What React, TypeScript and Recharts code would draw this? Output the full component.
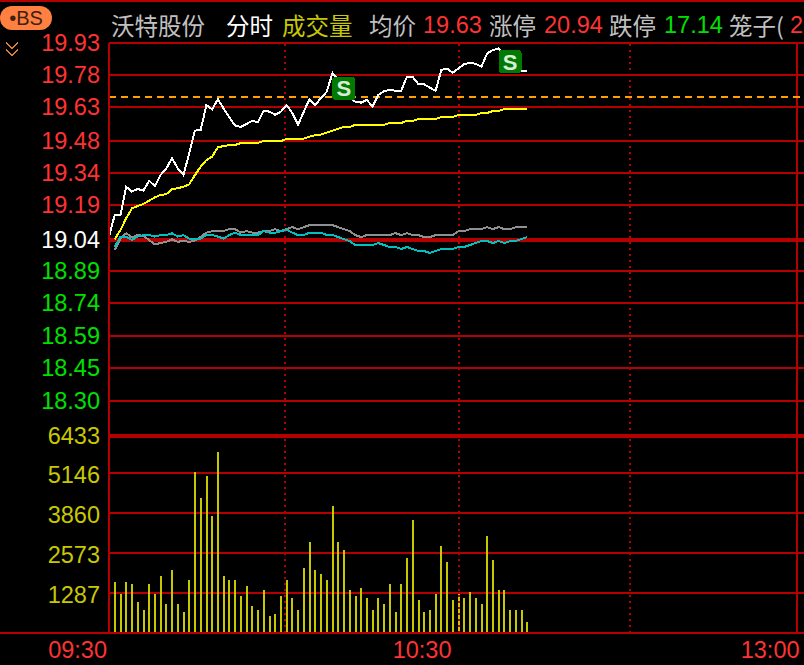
import { Bar, CartesianGrid, ComposedChart, Line, ReferenceLine, XAxis, YAxis } from 'recharts'

const lastPrice = [
  19.053, 19.151, 19.15, 19.279, 19.257, 19.269, 19.261, 19.306, 19.282, 19.332, 19.362, 19.408, 19.362, 19.332, 19.43,
  19.533, 19.536, 19.649, 19.63, 19.675, 19.634, 19.593, 19.557, 19.55, 19.563, 19.578, 19.571, 19.623, 19.619, 19.605,
  19.619, 19.649, 19.612, 19.559, 19.619, 19.676, 19.649, 19.681, 19.709, 19.794, 19.762, 19.717, 19.685, 19.664, 19.66,
  19.672, 19.642, 19.694, 19.713, 19.717, 19.714, 19.714, 19.777, 19.777, 19.743, 19.743, 19.728, 19.713, 19.808, 19.814,
  19.795, 19.815, 19.834, 19.841, 19.835, 19.823, 19.883, 19.898, 19.906, 19.876, 19.844, 19.817, 19.805, 19.805,
]
const avgPrice = [
  null, 19.042, 19.083, 19.136, 19.181, 19.192, 19.201, 19.216, 19.231, 19.242, 19.245, 19.269, 19.272, 19.279, 19.29,
  19.332, 19.37, 19.4, 19.415, 19.458, 19.463, 19.468, 19.468, 19.477, 19.477, 19.477, 19.478, 19.486, 19.486, 19.486,
  19.486, 19.495, 19.495, 19.495, 19.497, 19.506, 19.513, 19.515, 19.524, 19.533, 19.542, 19.55, 19.55, 19.559, 19.559,
  19.559, 19.559, 19.559, 19.559, 19.568, 19.568, 19.568, 19.577, 19.577, 19.586, 19.586, 19.586, 19.586, 19.595, 19.595,
  19.595, 19.604, 19.604, 19.604, 19.604, 19.613, 19.613, 19.622, 19.622, 19.631, 19.631, 19.631, 19.631, 19.631,
]
const grayLine = [
  null, 18.992, 19.045, 19.068, 19.05, 19.06, 19.057, 19.038, 19.018, 19.024, 19.029, 19.041, 19.029, 19.035, 19.029,
  19.035, 19.053, 19.071, 19.078, 19.078, 19.078, 19.087, 19.087, 19.071, 19.078, 19.071, 19.071, 19.078, 19.078, 19.087,
  19.078, 19.087, 19.096, 19.087, 19.096, 19.105, 19.105, 19.105, 19.105, 19.105, 19.096, 19.087, 19.078, 19.06, 19.051,
  19.06, 19.06, 19.06, 19.06, 19.06, 19.069, 19.06, 19.069, 19.06, 19.06, 19.051, 19.051, 19.06, 19.06, 19.06,
  19.06, 19.078, 19.078, 19.087, 19.087, 19.087, 19.096, 19.087, 19.096, 19.087, 19.087, 19.096, 19.096, 19.096,
]
const cyanLine = [
  null, 19.007, 19.053, 19.053, 19.038, 19.053, 19.06, 19.06, 19.053, 19.06, 19.06, 19.068, 19.053, 19.06, 19.044,
  19.041, 19.044, 19.06, 19.06, 19.053, 19.044, 19.06, 19.071, 19.06, 19.06, 19.06, 19.06, 19.078, 19.071, 19.071,
  19.078, 19.084, 19.071, 19.06, 19.06, 19.071, 19.071, 19.071, 19.06, 19.06, 19.051, 19.042, 19.033, 19.015, 19.015,
  19.015, 19.015, 19.024, 19.015, 19.006, 19.006, 18.997, 19.006, 18.997, 18.988, 18.988, 18.979, 18.988, 18.997, 18.997,
  18.997, 19.006, 19.006, 19.015, 19.024, 19.033, 19.033, 19.024, 19.033, 19.024, 19.033, 19.033, 19.042, 19.051,
]
const volume = [
  1654, 1263, 1654, 1589, 1001, 740, 1589, 1263, 1850, 936, 2046, 936, 675, 1720, 5247, 4398, 5116, 3810, 5900, 1850,
  1720, 1720, 1197, 1524, 871, 740, 1393, 544, 610, 1197, 1720, 1132, 740, 2112, 2961, 2046, 1916, 1720, 4136, 2961,
  2700, 1393, 1197, 1459, 1132, 740, 1132, 936, 1589, 675, 1589, 2438, 3679, 1067, 675, 740, 1263, 2830, 2308, 1067,
  1263, 1132, 1328, 1132, 936, 3157, 2373, 1393, 1393, 740, 740, 740, 348,
]
const sellMarks = [
  { minute: 41, price: 19.724 },
  { minute: 70, price: 19.846 },
]

const priceTicks = [19.93, 19.785, 19.64, 19.486, 19.341, 19.196, 19.038, 18.897, 18.752, 18.603, 18.458, 18.309, 18.15]
const priceLabels = ['19.93', '19.78', '19.63', '19.48', '19.34', '19.19', '19.04', '18.89', '18.74', '18.59', '18.45', '18.30', '']
const volumeTicks = [0, 1306, 2612, 3919, 5225, 6433]
const volumeLabels = ['', '1287', '2573', '3860', '5146', '6433']
const timeTicks = [0, 61, 120]
const timeLabels = ['09:30', '10:30', '13:00']
const timeNudge = [-2, -7, 3]
const halfHours = [30.7, 61, 91]

const prevClose = 19.038
const highlight = 19.685

const priceData = lastPrice.map((p, i) => ({
  minute: i,
  last: p,
  avg: avgPrice[i],
  gray: grayLine[i],
  cyan: cyanLine[i],
  sell: sellMarks.find((m) => m.minute === i)?.price ?? null,
}))
const volumeData = volume.map((v, i) => ({ minute: i + 1, volume: v }))

const RED = '#b40000'
const digits = '"Liberation Sans", Arial, sans-serif'
const cjk = '"Noto Sans CJK SC", sans-serif'

function PriceTick({ y, payload }: any) {
  const idx = priceTicks.indexOf(payload.value)
  const fill = idx < 6 ? '#ff3232' : idx === 6 ? '#ffffff' : '#00e000'
  return (
    <text x={100} y={y + 8} textAnchor="end" fill={fill} fontSize={23.5} fontFamily={digits}>
      {priceLabels[idx]}
    </text>
  )
}

function VolumeTick({ y, payload }: any) {
  const idx = volumeTicks.indexOf(payload.value)
  return (
    <text x={100} y={y + (idx === 5 ? 8 : 10)} textAnchor="end" fill="#c8c800" fontSize={23.5} fontFamily={digits}>
      {volumeLabels[idx]}
    </text>
  )
}

function TimeTick({ x, payload }: any) {
  const idx = timeTicks.indexOf(payload.value)
  return (
    <text x={x + timeNudge[idx]} y={242} textAnchor="end" fill="#ff3232" fontSize={23.5} fontFamily={digits}>
      {timeLabels[idx]}
    </text>
  )
}

function SellBadge({ cx, cy, payload }: any) {
  if (payload.sell == null) return <g key={payload.minute} />
  return (
    <g key={payload.minute}>
      <rect x={cx - 11.5} y={cy - 11.5} width={23} height={23} rx={3} fill="#007a00" />
      <text x={cx} y={cy + 8} textAnchor="middle" fill="#d8ecd8" fontSize={22} fontWeight="bold" fontFamily={digits}>
        S
      </text>
    </g>
  )
}

function Head({ left, color, font, children }: any) {
  return (
    <span
      style={{
        position: 'absolute',
        left,
        top: 8,
        color,
        fontFamily: font,
        fontSize: 23.5,
        lineHeight: '34px',
        whiteSpace: 'nowrap',
      }}
    >
      {children}
    </span>
  )
}

export default function App() {
  return (
    <div
      style={{
        position: 'absolute',
        left: 0,
        top: 0,
        width: 804,
        height: 665,
        background: '#000',
        overflow: 'hidden',
        shapeRendering: 'crispEdges',
      }}
    >
      <div style={{ position: 'absolute', left: 0, top: 0, width: 804, height: 2, background: RED }} />
      <div style={{ position: 'absolute', left: 0, top: 632, width: 109, height: 2, background: RED }} />

      <div
        style={{
          position: 'absolute',
          left: 0,
          top: 6,
          width: 52,
          height: 24,
          borderRadius: 12,
          background: '#ff8040',
          color: '#402010',
          fontFamily: digits,
          fontSize: 20,
          lineHeight: '24px',
          textAlign: 'center',
        }}
      >
        •BS
      </div>
      <svg style={{ position: 'absolute', left: 5, top: 42 }} width={14} height={16}>
        <polyline points="1,1 7,6 13,1" fill="none" stroke="#e08030" strokeWidth={1.5} />
        <polyline points="1,8 7,13 13,8" fill="none" stroke="#e08030" strokeWidth={1.5} />
      </svg>

      <Head left={111} color="#c0c0c0" font={cjk}>沃特股份</Head>
      <Head left={226} color="#ffffff" font={cjk}>分时</Head>
      <Head left={282} color="#c8c800" font={cjk}>成交量</Head>
      <Head left={369} color="#c0c0c0" font={cjk}>均价</Head>
      <Head left={423} color="#ff3232" font={digits}>19.63</Head>
      <Head left={489} color="#c0c0c0" font={cjk}>涨停</Head>
      <Head left={544} color="#ff3232" font={digits}>20.94</Head>
      <Head left={609} color="#c0c0c0" font={cjk}>跌停</Head>
      <Head left={664} color="#00e000" font={digits}>17.14</Head>
      <Head left={729} color="#c0c0c0" font={cjk}>笼子(</Head>
      <Head left={790} color="#ff3232" font={digits}>2</Head>

      <div style={{ position: 'absolute', left: 0, top: 0 }}>
        <ComposedChart width={804} height={446} data={priceData} margin={{ top: 43, right: 0, bottom: 10, left: 0 }}>
          <CartesianGrid vertical={false} stroke={RED} strokeWidth={2} />
          <XAxis type="number" dataKey="minute" domain={[0, 121.3]} hide />
          <YAxis
            width={109}
            domain={[18.15, 19.93]}
            ticks={priceTicks}
            interval={0}
            tick={PriceTick}
            tickLine={false}
            axisLine={{ stroke: RED, strokeWidth: 2 }}
          />
          {halfHours.map((m) => (
            <ReferenceLine key={m} x={m} stroke={RED} strokeWidth={2} strokeDasharray="2 4" />
          ))}
          <ReferenceLine x={120} stroke={RED} strokeWidth={2} />
          <ReferenceLine y={prevClose} stroke={RED} strokeWidth={4} />
          <ReferenceLine y={18.15} stroke={RED} strokeWidth={4} />
          <ReferenceLine y={highlight} stroke="#ffa000" strokeWidth={2} strokeDasharray="7 5" />
          <Line dataKey="gray" stroke="#909090" strokeWidth={2} dot={false} isAnimationActive={false} />
          <Line dataKey="cyan" stroke="#00c0c0" strokeWidth={2} dot={false} isAnimationActive={false} />
          <Line dataKey="avg" stroke="#ffff00" strokeWidth={2} dot={false} isAnimationActive={false} />
          <Line dataKey="last" stroke="#ffffff" strokeWidth={2} dot={false} isAnimationActive={false} />
          <Line dataKey="sell" stroke="none" dot={SellBadge} isAnimationActive={false} />
        </ComposedChart>
      </div>

      <div style={{ position: 'absolute', left: 0, top: 416 }}>
        <ComposedChart width={804} height={249} data={volumeData} margin={{ top: 20, right: 0, bottom: 0, left: 0 }}>
          <CartesianGrid vertical={false} stroke={RED} strokeWidth={2} />
          <XAxis
            type="number"
            dataKey="minute"
            domain={[0, 121.3]}
            ticks={timeTicks}
            interval={0}
            tick={TimeTick}
            tickLine={false}
            height={32}
            axisLine={{ stroke: RED, strokeWidth: 2 }}
          />
          <YAxis
            width={109}
            domain={[0, 6433]}
            ticks={volumeTicks}
            interval={0}
            tick={VolumeTick}
            tickLine={false}
            axisLine={{ stroke: RED, strokeWidth: 2 }}
          />
          {halfHours.map((m) => (
            <ReferenceLine key={m} x={m} stroke={RED} strokeWidth={2} strokeDasharray="2 4" />
          ))}
          <ReferenceLine x={120} stroke={RED} strokeWidth={2} />
          <Bar dataKey="volume" fill="#c8c800" barSize={2} isAnimationActive={false} />
        </ComposedChart>
      </div>
    </div>
  )
}
